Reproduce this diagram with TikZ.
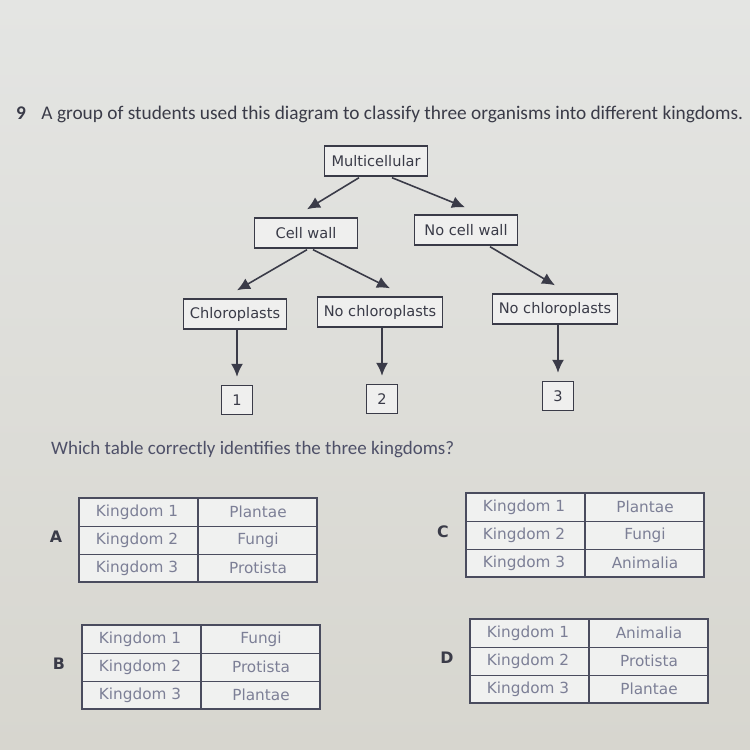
\documentclass[tikz,border=0pt]{standalone}
\usepackage{fontspec}
\setmainfont{DejaVu Sans}
\newfontfamily\qfont{Carlito}
\usetikzlibrary{calc,arrows.meta}

\definecolor{bgtop}{HTML}{E4E5E3}
\definecolor{bgbot}{HTML}{D7D6CF}
\definecolor{ink}{HTML}{3A3B48}
\definecolor{qink}{HTML}{4E5068}
\definecolor{tabink}{HTML}{7C7F96}
\definecolor{rule}{HTML}{4A4C5E}

\tikzset{
  keybox/.style={draw=ink, line width=0.8pt, fill=bgtop!60!white, text=ink,
    font=\fontsize{8.3}{10}\selectfont, inner xsep=3.5pt,
    minimum width=2.06cm, minimum height=0.6cm},
  numbox/.style={keybox, minimum width=0.62cm, minimum height=0.58cm, inner xsep=1pt},
  keyarrow/.style={draw=ink, line width=0.9pt, -{Latex[length=2.6mm,width=2.4mm]}},
  cell/.style={text=tabink, font=\fontsize{8.7}{10}\selectfont},
  tabletter/.style={text=ink, font=\bfseries\fontsize{9}{10}\selectfont},
}

\begin{document}
\begin{tikzpicture}[x=0.02cm, y=-0.02cm]
    \useasboundingbox (0,0) rectangle (750,750);
    \shade[top color=bgtop, bottom color=bgbot] (0,0) rectangle (750,750);% the photographed page

    % question
    \node[anchor=west, text=ink, font=\qfont\fontsize{11}{13}\selectfont] (question) at (10,114)
        {\textbf{9}\hspace{0.8em}A group of students used this diagram to classify three organisms into different kingdoms.};

    % the key
    \node[keybox] (multi)     at (376,161) {Multicellular};
    \node[keybox] (wall)      at (306,233) {Cell wall};
    \node[keybox] (nowall)    at (466,230) {No cell wall};
    \node[keybox] (chloro)    at (235,314) {Chloroplasts};
    \node[keybox] (nochloroA) at (380,312) {No chloroplasts};
    \node[keybox] (nochloroB) at (555,309) {No chloroplasts};
    \node[numbox] (one)   at (237,400) {1};
    \node[numbox] (two)   at (382,399) {2};
    \node[numbox] (three) at (558,396) {3};

    \draw[keyarrow] ($(multi.south)+(-17,1)$) -- ($(wall.north)+(1,-8)$);
    \draw[keyarrow] ($(multi.south)+(16,1)$) -- ($(nowall.north)+(-1,-7)$);
    \draw[keyarrow] ($(wall.south)+(1,1)$) -- ($(chloro.north)+(2,-8)$);
    \draw[keyarrow] ($(wall.south)+(7,1)$) -- ($(nochloroA.north)+(10,-8)$);
    \draw[keyarrow] ($(nowall.south)+(24,1)$) -- ($(nochloroB.north)+(0,-8)$);
    \draw[keyarrow] (one.north |- chloro.south) -- ($(one.north)+(0,-8)$);
    \draw[keyarrow] (two.north |- nochloroA.south) -- ($(two.north)+(0,-8)$);
    \draw[keyarrow] (three.north |- nochloroB.south) -- ($(three.north)+(0,-8)$);

    \node[anchor=west, text=qink, font=\qfont\fontsize{10.8}{13}\selectfont] (ask) at (45,450)
        {Which table correctly identifies the three kingdoms?};

    % the four tables: letter, top left corner, kingdoms
    \foreach \tab/\x/\y/\ka/\kb/\kc in {A/79/498/Plantae/Fungi/Protista,
                                         C/466/493/Plantae/Fungi/Animalia,
                                         B/82/625/Fungi/Protista/Plantae,
                                         D/470/619/Animalia/Protista/Plantae}{
      \coordinate (\tab-nw) at (\x,\y);
      \coordinate (\tab-se) at (\x+238,\y+84);
      \fill[white!45!bgtop] (\tab-nw) rectangle (\tab-se);
      \draw[rule, line width=0.5pt] (\x,\y+28) -- (\x+238,\y+28)
                                    (\x,\y+56) -- (\x+238,\y+56);
      \draw[rule, line width=1.3pt] (\tab-nw) rectangle (\tab-se)
                                    (\x+119,\y) -- (\x+119,\y+84);
      \node[tabletter] (\tab-letter) at (\x-23,\y+39) {\tab};
      \foreach \r/\k in {1/\ka,2/\kb,3/\kc}{
        \node[cell] (\tab-name-\r) at (\x+58,\y+28*\r-14) {Kingdom \r};
        \node[cell] (\tab-king-\r) at (\x+179,\y+28*\r-14) {\k};
      }
    }
\end{tikzpicture}
\end{document}
